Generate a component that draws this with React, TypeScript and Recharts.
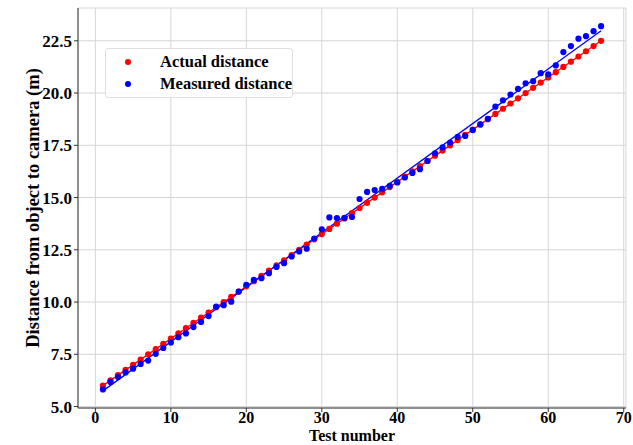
import React from 'react';
import { ComposedChart, Scatter, Line, XAxis, YAxis, CartesianGrid } from 'recharts';

const testNumbers = [
  1, 2, 3, 4, 5, 6, 7, 8, 9, 10, 11, 12, 13, 14, 15, 16, 17, 18, 19, 20,
  21, 22, 23, 24, 25, 26, 27, 28, 29, 30, 31, 32, 33, 34, 35, 36, 37, 38, 39, 40,
  41, 42, 43, 44, 45, 46, 47, 48, 49, 50, 51, 52, 53, 54, 55, 56, 57, 58, 59, 60,
  61, 62, 63, 64, 65, 66, 67,
];

const actualDistance = [
  6.0, 6.25, 6.5, 6.75, 7.0, 7.25, 7.5, 7.75, 8.0, 8.25, 8.5, 8.75, 9.0, 9.25, 9.5, 9.75, 10.0, 10.25, 10.5, 10.75,
  11.0, 11.25, 11.5, 11.75, 12.0, 12.25, 12.5, 12.75, 13.0, 13.25, 13.5, 13.75, 14.0, 14.25, 14.5, 14.75, 15.0, 15.25, 15.5, 15.75,
  16.0, 16.25, 16.5, 16.75, 17.0, 17.25, 17.5, 17.75, 18.0, 18.25, 18.5, 18.75, 19.0, 19.25, 19.5, 19.75, 20.0, 20.25, 20.5, 20.75,
  21.0, 21.25, 21.5, 21.75, 22.0, 22.25, 22.5,
];

const measuredDistance = [
  5.82, 6.18, 6.41, 6.63, 6.81, 7.04, 7.2, 7.52, 7.8, 8.06, 8.32, 8.5, 8.8, 9.05, 9.33, 9.78, 9.85, 10.02, 10.5, 10.82,
  11.06, 11.14, 11.38, 11.68, 11.86, 12.18, 12.42, 12.55, 13.04, 13.48, 14.05, 14.02, 14.03, 14.07, 14.93, 15.27, 15.36, 15.42, 15.56, 15.72,
  15.96, 16.18, 16.36, 16.75, 17.12, 17.4, 17.63, 17.9, 17.95, 18.23, 18.5, 18.77, 19.35, 19.65, 19.93, 20.2, 20.47, 20.57, 20.95, 20.9,
  21.32, 21.96, 22.25, 22.6, 22.72, 22.96, 23.2,
];

// fitted lines, endpoints
const actualFit = [{ x: 1, y: 6.0 }, { x: 67, y: 22.5 }];
const measuredFit = [{ x: 1, y: 5.75 }, { x: 67, y: 22.98 }];

const xTicks = [0, 10, 20, 30, 40, 50, 60, 70];
const yTicks = [5.0, 7.5, 10.0, 12.5, 15.0, 17.5, 20.0, 22.5];

const actualData = testNumbers.map((x, i) => ({ x, y: actualDistance[i] }));
const measuredData = testNumbers.map((x, i) => ({ x, y: measuredDistance[i] }));

const FONT = 'Liberation Serif';

const legendItems = [
  { color: '#ff0000', text: 'Actual distance' },
  { color: '#0000ff', text: 'Measured distance' },
];

const YLabel = ({ viewBox }: any) => {
  const cy = viewBox.y + viewBox.height / 2;
  return (
    <text x={33} y={cy} transform={`rotate(-90, 33, ${cy})`} textAnchor="middle" dominantBaseline="central"
      fontFamily={FONT} fontWeight={700} fontSize={18.5} fill="#000">
      Distance from object to camera (m)
    </text>
  );
};

const XLabel = ({ viewBox }: any) => {
  const cx = viewBox.x + viewBox.width / 2;
  return (
    <text x={cx} y={441} textAnchor="middle" fontFamily={FONT} fontWeight={700} fontSize={16} fill="#000">
      Test number
    </text>
  );
};

const tickStyle = { fontFamily: FONT, fontWeight: 700, fontSize: 16, fill: '#000' };

export default function App() {
  return (
    <div style={{ position: 'absolute', left: 0, top: 0, width: 633, height: 445, background: '#fff' }}>
      <ComposedChart width={633} height={445} margin={{ top: 8, right: 7, bottom: 0, left: 0 }}>
        <CartesianGrid stroke="#d6d6d6" strokeWidth={1} />
        <XAxis
          type="number"
          dataKey="x"
          domain={[-2.3, 70.3]}
          ticks={xTicks}
          allowDataOverflow
          height={37}
          tick={tickStyle}
          tickSize={4}
          tickMargin={0}
          stroke="#333"
          label={<XLabel />}
        />
        <XAxis xAxisId="top" orientation="top" type="number" domain={[-2.3, 70.3]} ticks={[]} height={0} stroke="#333" tick={false} />
        <YAxis
          type="number"
          dataKey="y"
          domain={[4.93, 24.07]}
          ticks={yTicks}
          allowDataOverflow
          width={78}
          tick={{ ...tickStyle, fontSize: 17 }}
          tickSize={4}
          tickMargin={2}
          tickFormatter={(v: number) => v.toFixed(1)}
          stroke="#333"
          label={<YLabel />}
        />
        <YAxis yAxisId="right" orientation="right" type="number" domain={[4.93, 24.07]} ticks={[]} width={0} stroke="#333" tick={false} />
        <Line data={actualFit} dataKey="y" type="linear" stroke="#ff0000" strokeWidth={1.3} dot={false} isAnimationActive={false} />
        <Line data={measuredFit} dataKey="y" type="linear" stroke="#0000ff" strokeWidth={1.3} dot={false} isAnimationActive={false} />
        <Scatter data={actualData} fill="#ff0000" isAnimationActive={false} shape={(p: any) => <circle cx={p.cx} cy={p.cy} r={3.1} fill="#ff0000" />} />
        <Scatter data={measuredData} fill="#0000ff" isAnimationActive={false} shape={(p: any) => <circle cx={p.cx} cy={p.cy} r={3.1} fill="#0000ff" />} />
      </ComposedChart>
      <div style={{
        position: 'absolute', left: 105, top: 48, width: 188, height: 50,
        background: 'rgba(255,255,255,0.85)', border: '1px solid #e0e0e0', borderRadius: 3,
        boxSizing: 'border-box', paddingTop: 2, fontFamily: FONT,
        fontWeight: 700, fontSize: 16.5, color: '#000', whiteSpace: 'nowrap',
      }}>
        {legendItems.map((e) => (
          <div key={e.text} style={{ display: 'flex', alignItems: 'center', height: 22 }}>
            <span style={{ width: 6, height: 6, borderRadius: 3, background: e.color, marginLeft: 19, marginRight: 29, flexShrink: 0 }} />
            <span>{e.text}</span>
          </div>
        ))}
      </div>
    </div>
  );
}
